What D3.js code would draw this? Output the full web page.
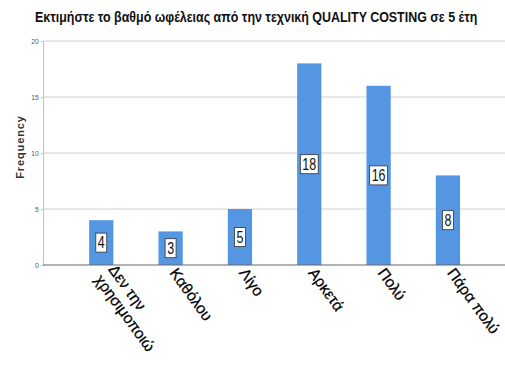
<!DOCTYPE html>
<html>
<head>
<meta charset="utf-8">
<script src="https://cdn.jsdelivr.net/npm/d3@7"></script>
<style>
  html, body { margin: 0; padding: 0; background: #fff; }
  svg { display: block; }
</style>
</head>
<body>
<svg id="chart" width="505" height="369"></svg>
<script>
// Response categories and counts
const categories = ["Δεν την χρησιμοποιώ", "Καθόλου", "Λίγο", "Αρκετά", "Πολύ", "Πάρα πολύ"];
const categoryLines = [["Δεν την", "χρησιμοποιώ"], ["Καθόλου"], ["Λίγο"], ["Αρκετά"], ["Πολύ"], ["Πάρα πολύ"]];
const frequencies = [4, 3, 5, 18, 16, 8];
const yTicks = [0, 5, 10, 15, 20];
const title = "Εκτιμήστε το βαθμό ωφέλειας από την τεχνική QUALITY COSTING σε 5 έτη";
const yLabel = "Frequency";

const svg = d3.select("#chart");
const plot = { left: 43, right: 505, top: 41, bottom: 265 };

const x = d3.scaleBand()
  .domain(categories)
  .range([66.6, 482.6])
  .paddingInner(0.65)
  .paddingOuter(0.325);

const y = d3.scaleLinear()
  .domain([0, 20])
  .range([plot.bottom, plot.top]);

// Title, condensed horizontally to fit its line
const titleText = svg.append("text")
  .style("font-family", "'Liberation Sans', Arial, sans-serif")
  .style("font-weight", "bold")
  .style("font-size", "15px")
  .style("fill", "#111")
  .text(title);
const titleW = titleText.node().getComputedTextLength();
titleText.attr("transform", `translate(35,22) scale(${443 / titleW},1)`);

// Horizontal gridlines
svg.append("g")
  .selectAll("line")
  .data(yTicks.filter(d => d > 0))
  .join("line")
  .attr("x1", plot.left)
  .attr("x2", plot.right)
  .attr("y1", d => y(d))
  .attr("y2", d => y(d))
  .attr("stroke", "#d2d2d2")
  .attr("stroke-width", 1);

// Y axis
const yAxis = d3.axisLeft(y).tickValues(yTicks).tickSize(2).tickPadding(3);
const gy = svg.append("g")
  .attr("transform", `translate(${plot.left},0)`)
  .call(yAxis);
gy.select(".domain").attr("stroke", "#c4c4c4");
gy.selectAll(".tick line").attr("stroke", "#c4c4c4");
gy.selectAll(".tick text")
  .attr("transform", "scale(0.85,1)")
  .style("font-family", "'Liberation Sans', Arial, sans-serif")
  .style("font-size", "8px")
  .style("fill", "#555");

svg.append("text")
  .attr("transform", `translate(24,147) rotate(-90)`)
  .attr("text-anchor", "middle")
  .style("font-family", "'Liberation Sans', Arial, sans-serif")
  .style("font-weight", "bold")
  .style("font-size", "11px")
  .style("letter-spacing", "0.9px")
  .style("fill", "#333")
  .text(yLabel);

// Bars
svg.append("g")
  .selectAll("rect")
  .data(frequencies)
  .join("rect")
  .attr("x", (d, i) => x(categories[i]))
  .attr("width", x.bandwidth())
  .attr("y", d => y(d))
  .attr("height", d => y(0) - y(d))
  .attr("fill", "#5596e3");

// X axis baseline
svg.append("line")
  .attr("x1", plot.left)
  .attr("x2", plot.right)
  .attr("y1", plot.bottom)
  .attr("y2", plot.bottom)
  .attr("stroke", "#666")
  .attr("stroke-width", 1);

// Value labels in boxes (condensed digits)
const labels = svg.append("g")
  .selectAll("g")
  .data(frequencies)
  .join("g")
  .attr("transform", (d, i) => `translate(${x(categories[i]) + x.bandwidth() / 2},${(y(d) + y(0)) / 2})`);

labels.each(function (d) {
  const g = d3.select(this);
  const box = g.append("rect");
  const t = g.append("text")
    .attr("text-anchor", "middle")
    .attr("dy", "0.36em")
    .attr("transform", "scale(0.78,1)")
    .style("font-family", "'Liberation Sans', Arial, sans-serif")
    .style("font-size", "16px")
    .style("fill", "#111")
    .text(d);
  const w = t.node().getBBox().width * 0.78;
  box.attr("x", -w / 2 - 2)
    .attr("y", -9.5)
    .attr("width", w + 4)
    .attr("height", 19)
    .attr("fill", "#fff")
    .attr("stroke", "#333")
    .attr("stroke-width", 0.8);
});

// Rotated category labels
const lineH = 17;
const angle = 54;
const xl = svg.append("g")
  .selectAll("text")
  .data(categoryLines)
  .join("text")
  .attr("transform", (d, i) => `translate(${x(categories[i]) + x.bandwidth() / 2 - 1.5},${plot.bottom + 8}) rotate(${angle})`)
  .style("font-family", "'Liberation Sans', Arial, sans-serif")
  .style("font-size", "15.5px")
  .style("fill", "#000")
  .style("stroke", "#000")
  .style("stroke-width", "0.25px");

xl.selectAll("tspan")
  .data(d => d.map((t, j) => ({ t, j, n: d.length })))
  .join("tspan")
  .attr("x", d => (d.n - 1) * 2)
  .attr("y", d => (d.j - (d.n - 1) * 0.5) * lineH)
  .text(d => d.t);
</script>
</body>
</html>
